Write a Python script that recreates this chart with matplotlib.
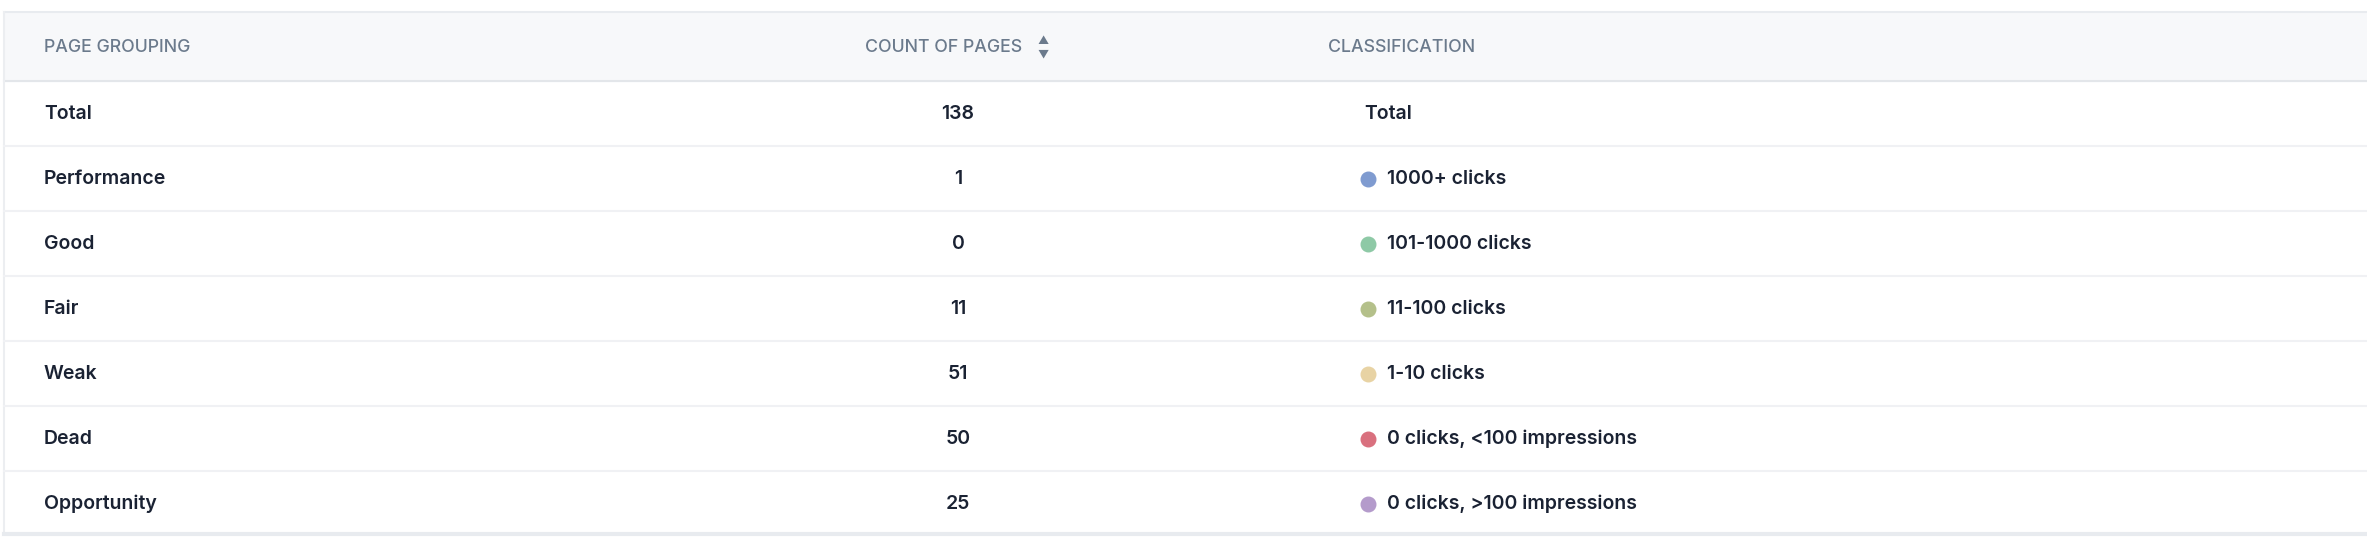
import matplotlib
matplotlib.use("Agg")
import matplotlib.pyplot as plt

# table data
groupings = ["Total", "Performance", "Good", "Fair", "Weak", "Dead", "Opportunity"]
counts = [138, 1, 0, 11, 51, 50, 25]
classes = ["Total", "1000+ clicks", "101-1000 clicks", "11-100 clicks",
           "1-10 clicks", "0 clicks, <100 impressions", "0 clicks, >100 impressions"]
dot_colors = [None, "#7f9bd0", "#8ec9a6", "#b4c08a", "#e8d3a4", "#d9707e", "#b49bcb"]
headers = ["PAGE GROUPING", "COUNT OF PAGES", "CLASSIFICATION"]

W, H = 2367, 539
fig = plt.figure(figsize=(W / 100, H / 100), dpi=100)
ax = fig.add_axes([0, 0, 1, 1])
ax.set_xlim(0, W)
ax.set_ylim(H, 0)
ax.axis("off")

plt.rcParams["font.family"] = ["Inter", "DejaVu Sans"]

# header band
ax.add_patch(plt.Rectangle((4, 12), W, 69, color="#f7f8fa", zorder=0))
ax.plot([4, W], [12, 12], color="#e8ebef", lw=1.5)
ax.plot([4, W], [81, 81], color="#e3e6ea", lw=1.5)
ax.plot([4, 4], [12, 534], color="#eceef1", lw=1.5)
ax.plot([4, W], [534, 534], color="#e8ebef", lw=3)

hc = "#6b7a8c"
ax.text(44, 48, headers[0], fontsize=12.8, color=hc, va="center", fontweight="medium")
ax.text(865, 48, headers[1], fontsize=12.8, color=hc, va="center", fontweight="medium")
ax.text(1043, 41, "\u25b2", fontsize=8, color=hc, ha="center", va="center")
ax.text(1043, 54, "\u25bc", fontsize=8, color=hc, ha="center", va="center")
ax.text(1328, 48, headers[2], fontsize=12.8, color=hc, va="center", fontweight="medium")

tc = "#1a2233"
row_h = 65
for i, (g, c, cl, dc) in enumerate(zip(groupings, counts, classes, dot_colors)):
    y = 114 + i * row_h
    ax.text(44, y, g, fontsize=14, color=tc, va="center", fontweight="semibold")
    ax.text(958, y, str(c), fontsize=14, color=tc, va="center", ha="center", fontweight="semibold")
    if dc is None:
        ax.text(1364, y, cl, fontsize=14, color=tc, va="center", fontweight="semibold")
    else:
        ax.scatter([1368], [y], s=110, color=dc, zorder=3)
        ax.text(1387, y, cl, fontsize=14, color=tc, va="center", fontweight="semibold")
    if i < len(groupings) - 1:
        ax.plot([4, W], [y + 32, y + 32], color="#f0f1f4", lw=1.5)

fig.savefig("out.png", dpi=100)
